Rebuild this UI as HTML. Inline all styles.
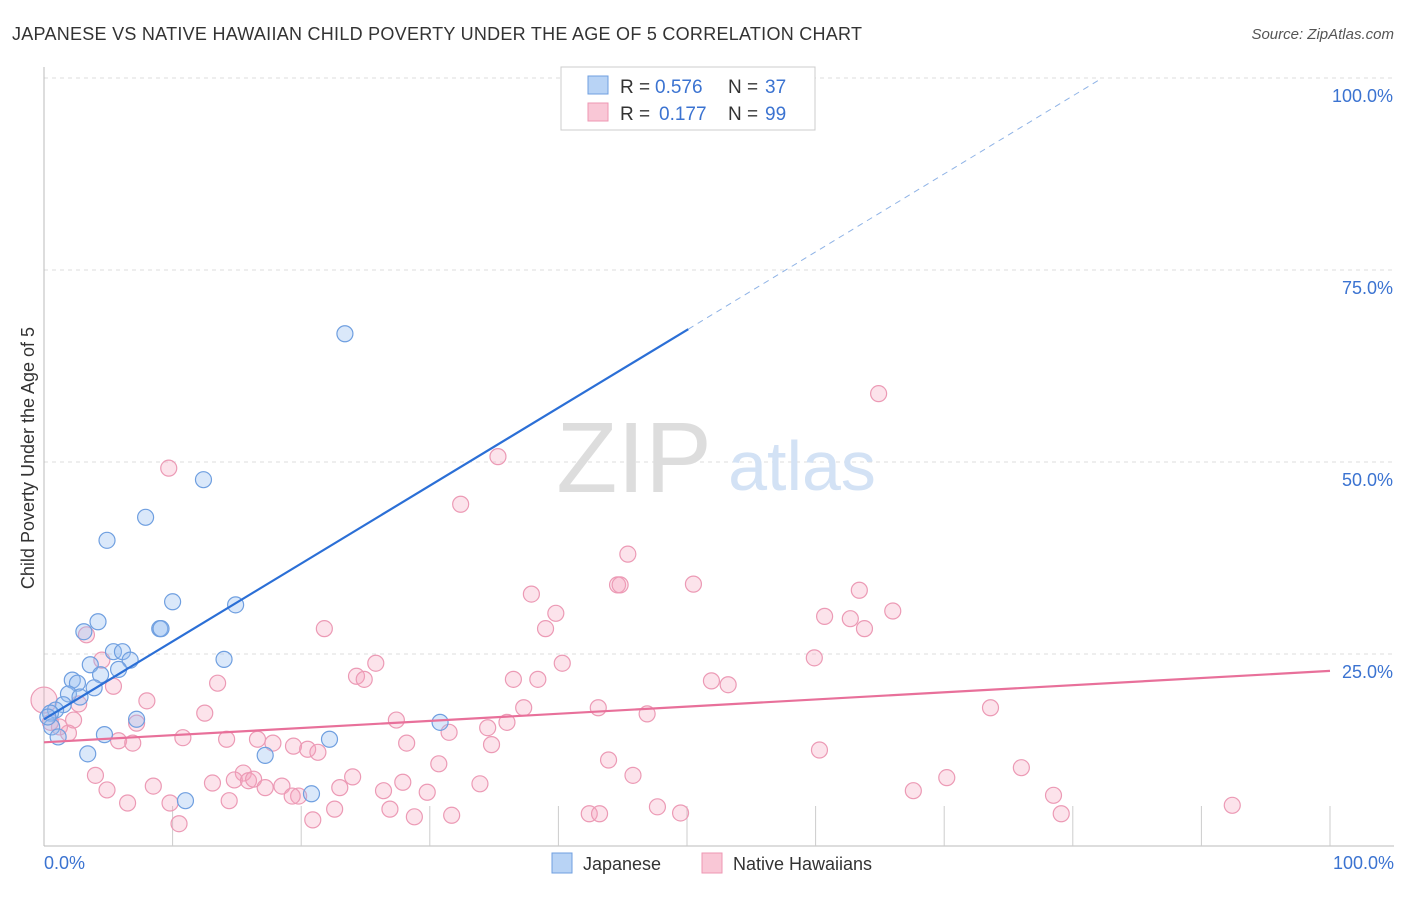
<!DOCTYPE html>
<html><head><meta charset="utf-8">
<style>
body{margin:0;background:#fff;font-family:"Liberation Sans",sans-serif;}
svg text{font-family:"Liberation Sans",sans-serif;}
</style></head>
<body>
<svg id="chart" width="1406" height="892" xmlns="http://www.w3.org/2000/svg">
<text x="12" y="40" font-size="18" fill="#333" textLength="850">JAPANESE VS NATIVE HAWAIIAN CHILD POVERTY UNDER THE AGE OF 5 CORRELATION CHART</text>
<text x="1394" y="39" font-size="15" fill="#555" font-style="italic" text-anchor="end">Source: ZipAtlas.com</text>
<text x="34" y="458" font-size="18" fill="#333" text-anchor="middle" transform="rotate(-90 34 458)">Child Poverty Under the Age of 5</text>
<g id="grid"></g>
<g id="xticks"></g>
<text x="634" y="492" font-size="100" fill="#ddd" font-family="Liberation Serif" text-anchor="middle">ZIP</text>
<text x="802" y="490" font-size="70" fill="#d3e2f5" text-anchor="middle">atlas</text>
<g id="pink"></g>
<g id="blue"></g>
<g id="lines"></g>
<g id="ylabels"></g>
<text x="44" y="869" font-size="18" fill="#3b73d1">0.0%</text>
<text x="1394" y="869" font-size="18" fill="#3b73d1" text-anchor="end">100.0%</text>
<g>
<rect x="561" y="67" width="254" height="63" fill="#fff" stroke="#ccc"/>
<rect x="588" y="76" width="20" height="18" fill="#b8d3f5" stroke="#6f9fe0"/>
<text x="620" y="93" font-size="19" fill="#333">R =</text>
<text x="655" y="93" font-size="19" fill="#3b73d1">0.576</text>
<text x="728" y="93" font-size="19" fill="#333">N =</text>
<text x="765" y="93" font-size="19" fill="#3b73d1">37</text>
<rect x="588" y="103" width="20" height="18" fill="#f9c7d6" stroke="#ee97b3"/>
<text x="620" y="120" font-size="19" fill="#333">R =</text>
<text x="659" y="120" font-size="19" fill="#3b73d1">0.177</text>
<text x="728" y="120" font-size="19" fill="#333">N =</text>
<text x="765" y="120" font-size="19" fill="#3b73d1">99</text>
</g>
<g>
<rect x="552" y="853" width="20" height="20" fill="#b8d3f5" stroke="#6f9fe0"/>
<text x="583" y="870" font-size="18" fill="#333">Japanese</text>
<rect x="702" y="853" width="20" height="20" fill="#f9c7d6" stroke="#ee97b3"/>
<text x="733" y="870" font-size="18" fill="#333">Native Hawaiians</text>
</g>
</svg>
<script>
const yTicks=[25,50,75,100];
const yTickLabels=["25.0%","50.0%","75.0%","100.0%"];
const xTicks=[10,20,30,40,50,60,70,80,90,100];
const japX=[47,23.4,12.4,7.9,4.9,10,14.9,4.2,3.1,9,9.1,5.4,6.1,6.7,14,3.6,5.8,4.4,2.2,2.6,3.9,1.9,2.8,1.5,0.9,0.5,7.2,30.8,0.6,1.1,4.7,22.2,3.4,17.2,11,20.8,0.3];
const japY=[100,66.7,47.7,42.8,39.8,31.8,31.4,29.2,27.9,28.3,28.3,25.3,25.3,24.2,24.3,23.6,23,22.3,21.6,21.2,20.6,19.8,19.4,18.4,17.7,17.3,16.5,16.1,15.5,14.2,14.5,13.9,12,11.8,5.9,6.8,16.8];
const hawX=[64.9,9.7,35.3,32.4,45.4,44.6,44.8,50.5,37.9,39.8,39.0,60.7,62.7,63.8,63.4,66.0,21.8,3.3,40.3,25.8,59.9,24.3,24.9,36.5,38.4,51.9,53.2,13.5,5.4,8.0,2.7,37.3,43.1,73.6,46.9,12.5,2.3,7.2,27.4,36.0,34.5,31.5,1.9,10.8,14.2,16.6,17.8,5.8,6.9,19.4,20.5,21.3,28.2,34.8,60.3,43.9,30.7,76.0,4.0,45.8,70.2,15.5,24.0,14.8,15.9,16.3,13.1,8.5,17.2,18.5,23.0,33.9,27.9,4.9,29.8,26.4,19.8,19.3,67.6,78.5,6.5,9.8,14.4,26.9,47.7,92.4,22.6,28.8,31.7,42.4,43.2,49.5,79.1,20.9,10.5,0,4.5,1.2,0.5];
const hawY=[58.9,49.2,50.7,44.5,38.0,34.0,34.0,34.1,32.8,30.3,28.3,29.9,29.6,28.3,33.3,30.6,28.3,27.5,23.8,23.8,24.5,22.1,21.7,21.7,21.7,21.5,21.0,21.2,20.8,18.9,18.5,18.0,18.0,18.0,17.2,17.3,16.4,16.0,16.4,16.1,15.4,14.8,14.7,14.1,13.9,13.9,13.4,13.7,13.4,13.0,12.6,12.2,13.4,13.2,12.5,11.2,10.7,10.2,9.2,9.2,8.9,9.5,9.0,8.6,8.5,8.7,8.2,7.8,7.6,7.8,7.6,8.1,8.3,7.3,7.0,7.2,6.5,6.5,7.2,6.6,5.6,5.6,5.9,4.8,5.1,5.3,4.8,3.8,4.0,4.2,4.2,4.3,4.2,3.4,2.9,19,24.2,15.5,16.1];
const japTrend=[16.5,67.3,99.7]; const japTrendX=[0,50.1,82];
const hawTrend=[13.5,22.8]; const hawTrendX=[0,100];
const NS='http://www.w3.org/2000/svg';
const sx=v=>44+v*12.86, sy=v=>846-v*7.68;
function mk(t,a,p){const e=document.createElementNS(NS,t);for(const k in a)e.setAttribute(k,a[k]);p.appendChild(e);return e;}
const grid=document.getElementById('grid');
yTicks.forEach((v,i)=>{
 const l=mk('line',{x1:44,x2:1394,y1:sy(v),y2:sy(v),stroke:'#ddd','stroke-dasharray':'4,4'},grid);
 
 
 const t=mk('text',{x:1393,y:sy(v)+24,'font-size':18,fill:'#3b73d1','text-anchor':'end'},document.getElementById('ylabels'));
 t.textContent=yTickLabels[i];
 
 
});
const ax=mk('line',{x1:44,x2:1394,y1:846,y2:846,stroke:'#bbb'},grid);


const ay=mk('line',{x1:44,x2:44,y1:67,y2:846,stroke:'#bbb'},grid);


xTicks.forEach(v=>{
 const l=mk('line',{x1:sx(v),x2:sx(v),y1:806,y2:846,stroke:'#ccc'},document.getElementById('xticks'));
 
 
});
hawX.forEach((x,i)=>{
 const c=mk('circle',{cx:sx(x),cy:sy(hawY[i]),r:(x===0?13:8),fill:'rgba(244,163,190,0.3)',stroke:'#ec9ab5','stroke-width':1.2},document.getElementById('pink'));
 
 
});
japX.forEach((x,i)=>{
 const c=mk('circle',{cx:sx(x),cy:sy(japY[i]),r:8,fill:'rgba(150,190,240,0.35)',stroke:'#6f9fe0','stroke-width':1.2},document.getElementById('blue'));
 
 
});
const L=document.getElementById('lines');
const b1=mk('line',{x1:sx(japTrendX[0]),y1:sy(japTrend[0]),x2:sx(japTrendX[1]),y2:sy(japTrend[1]),stroke:'#2b6fd6','stroke-width':2.2},L);


const b2=mk('line',{x1:sx(japTrendX[1]),y1:sy(japTrend[1]),x2:sx(japTrendX[2]),y2:sy(japTrend[2]),stroke:'#8fb3e6','stroke-width':1,'stroke-dasharray':'6,5'},L);


const p1=mk('line',{x1:sx(hawTrendX[0]),y1:sy(hawTrend[0]),x2:sx(hawTrendX[1]),y2:sy(hawTrend[1]),stroke:'#e8709a','stroke-width':2.2},L);


</script>
</body></html>
